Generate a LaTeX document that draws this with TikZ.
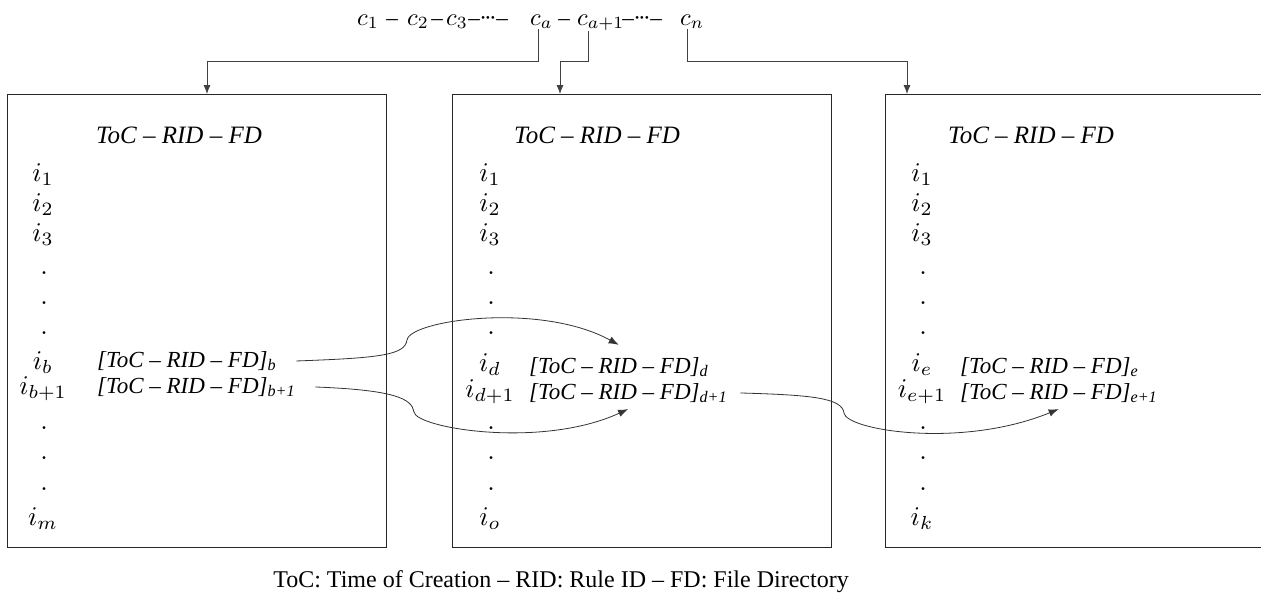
\documentclass[tikz,border=0pt]{standalone}
\usepackage{fontspec}
\setmainfont{Liberation Serif}
\usetikzlibrary{arrows.meta}
\newcommand{\entsub}[1]{\textsubscript{\itshape #1}}
\newcommand{\mydots}{·\kern-2.8pt·\kern-2.8pt·}
\newcommand{\mth}[1]{\scalebox{2.7}{$#1$}}
\newcommand{\cmth}[1]{\scalebox{2.45}{$#1$}}
\begin{document}
\begin{tikzpicture}[x=1pt,y=-1pt,
  box/.style={draw=black!85,line width=1.3pt,minimum width=379pt,minimum height=453pt,inner sep=0pt,anchor=north west},
  idx/.style={anchor=base,inner sep=0pt},
  ent/.style={anchor=base west,inner sep=0pt,font=\fontsize{23}{28}\selectfont\itshape},
  ttl/.style={anchor=base,inner sep=0pt,font=\fontsize{25}{28}\selectfont\itshape},
  seq/.style={anchor=base west,inner sep=0pt},
  sep/.style={anchor=base,inner sep=0pt,font=\fontsize{23}{28}\selectfont},
  foot/.style={anchor=base,inner sep=0pt,font=\fontsize{24}{28}\selectfont},
  feed/.style={draw=black!75,line width=0.8pt,-{Latex[length=9pt,width=7pt]}},
  link/.style={draw=black!80,line width=0.8pt,-{Latex[length=10pt,width=7.5pt]}}
]
\useasboundingbox (0,0) rectangle (1261,603);
% top sequence
\node[seq] (q1) at (357,25) {\cmth{c_1}};
\node[sep] (d1) at (392,25) {–};
\node[seq] (q2) at (407,25) {\cmth{c_2}};
\node[sep] (d2) at (437,25) {–};
\node[seq] (q3) at (446,25) {\cmth{c_3}};
\node[sep] (d3) at (474,25) {–};
\node[sep] (e1) at (488,25) {\mydots};
\node[sep] (d4) at (502,25) {–};
\node[seq] (ca) at (530,25) {\cmth{c_a}};
\node[sep] (d5) at (564,25) {–};
\node[seq] (ca1) at (577,25) {\cmth{c_{a+1}}};
\node[sep] (d6) at (628,25) {–};
\node[sep] (e2) at (642,25) {\mydots};
\node[sep] (d7) at (656,25) {–};
\node[seq] (cn) at (680,25) {\cmth{c_n}};
% boxes
\node[box] (box1) at (7,94) {};
\node[box] (box2) at (452,94) {};
\begin{scope}
\clip (0,0) rectangle (1261,603);
\node[box] (box3) at (885,94) {};
\end{scope}
% feed arrows
\coordinate (s1) at ([xshift=8pt]ca.south west);
\coordinate (s2) at ([xshift=11pt]ca1.south west);
\coordinate (s3) at ([xshift=7pt]cn.south west);
\coordinate (t1) at (207,94);
\coordinate (t2) at (560,94);
\coordinate (t3) at (907,94);
\draw[feed] (s1) -- (s1 |- 0,61) -| (t1);
\draw[feed] (s2) -- (s2 |- 0,61) -| (t2);
\draw[feed] (s3) -- (s3 |- 0,61) -| (t3);
% titles
\node[ttl] (h1) at (179,143) {ToC – RID – FD};
\node[ttl] (h2) at (597,143) {ToC – RID – FD};
\node[ttl] (h3) at (1031,143) {ToC – RID – FD};
% box 1 rows
\node[idx] (a1) at (43,181) {\mth{i_1}};
\node[idx] (a2) at (43,211) {\mth{i_2}};
\node[idx] (a3) at (43,241) {\mth{i_3}};
\node[idx] (a4) at (44,274) {\mth{.}};
\node[idx] (a5) at (44,304) {\mth{.}};
\node[idx] (a6) at (44,334) {\mth{.}};
\node[idx] (a7) at (43,369) {\mth{i_b}};
\node[idx] (a8) at (43,394) {\mth{i_{b+1}}};
\node[idx] (a9) at (44,429) {\mth{.}};
\node[idx] (a10) at (44,459) {\mth{.}};
\node[idx] (a11) at (44,490) {\mth{.}};
\node[idx] (a12) at (43,525) {\mth{i_m}};
\node[ent] (rowb) at (97,367) {[ToC – RID – FD]\entsub{b}};
\node[ent] (rowb1) at (97,393) {[ToC – RID – FD]\entsub{b+1}};
% box 2 rows
\node[idx] (b1) at (490,181) {\mth{i_1}};
\node[idx] (b2) at (490,211) {\mth{i_2}};
\node[idx] (b3) at (490,241) {\mth{i_3}};
\node[idx] (b4) at (491,274) {\mth{.}};
\node[idx] (b5) at (491,304) {\mth{.}};
\node[idx] (b6) at (491,334) {\mth{.}};
\node[idx] (b7) at (490,371) {\mth{i_d}};
\node[idx] (b8) at (490,397) {\mth{i_{d+1}}};
\node[idx] (b9) at (491,429) {\mth{.}};
\node[idx] (b10) at (491,459) {\mth{.}};
\node[idx] (b11) at (491,490) {\mth{.}};
\node[idx] (b12) at (490,525) {\mth{i_o}};
\node[ent] (rowd) at (529,373) {[ToC – RID – FD]\entsub{d}};
\node[ent] (rowd1) at (529,399) {[ToC – RID – FD]\entsub{d+1}};
% box 3 rows
\node[idx] (c1) at (922,181) {\mth{i_1}};
\node[idx] (c2) at (922,211) {\mth{i_2}};
\node[idx] (c3) at (922,241) {\mth{i_3}};
\node[idx] (c4) at (923,274) {\mth{.}};
\node[idx] (c5) at (923,304) {\mth{.}};
\node[idx] (c6) at (923,334) {\mth{.}};
\node[idx] (c7) at (922,371) {\mth{i_e}};
\node[idx] (c8) at (922,397) {\mth{i_{e+1}}};
\node[idx] (c9) at (923,429) {\mth{.}};
\node[idx] (c10) at (923,459) {\mth{.}};
\node[idx] (c11) at (923,490) {\mth{.}};
\node[idx] (c12) at (922,525) {\mth{i_k}};
\node[ent] (rowe) at (960,373) {[ToC – RID – FD]\entsub{e}};
\node[ent] (rowe1) at (960,399) {[ToC – RID – FD]\entsub{e+1}};
% curved links
\coordinate (k1) at (407,340);
\coordinate (k2) at (414,412);
\coordinate (k3) at (844,413);
\draw[link] ([xshift=20pt]rowb.east) .. controls +(84,-3) and +(-2,15) .. (k1)
  .. controls +(3,-20) and +(-78,-43) .. ([yshift=12pt]rowd.north);
\draw[link] ([xshift=20pt]rowb1.east) .. controls +(77,3) and +(-2,-14) .. (k2)
  .. controls +(2,16) and +(-87,40) .. ([yshift=-6pt]rowd1.south);
\draw[link] ([xshift=13pt]rowd1.east) .. controls +(72,2) and +(-2,-15) .. (k3)
  .. controls +(2,17) and +(-98,40) .. ([yshift=-6pt]rowe1.south);
% footer
\node[foot] (legend) at (561,587) {ToC: Time of Creation – RID: Rule ID – FD: File Directory};
\end{tikzpicture}
\end{document}
